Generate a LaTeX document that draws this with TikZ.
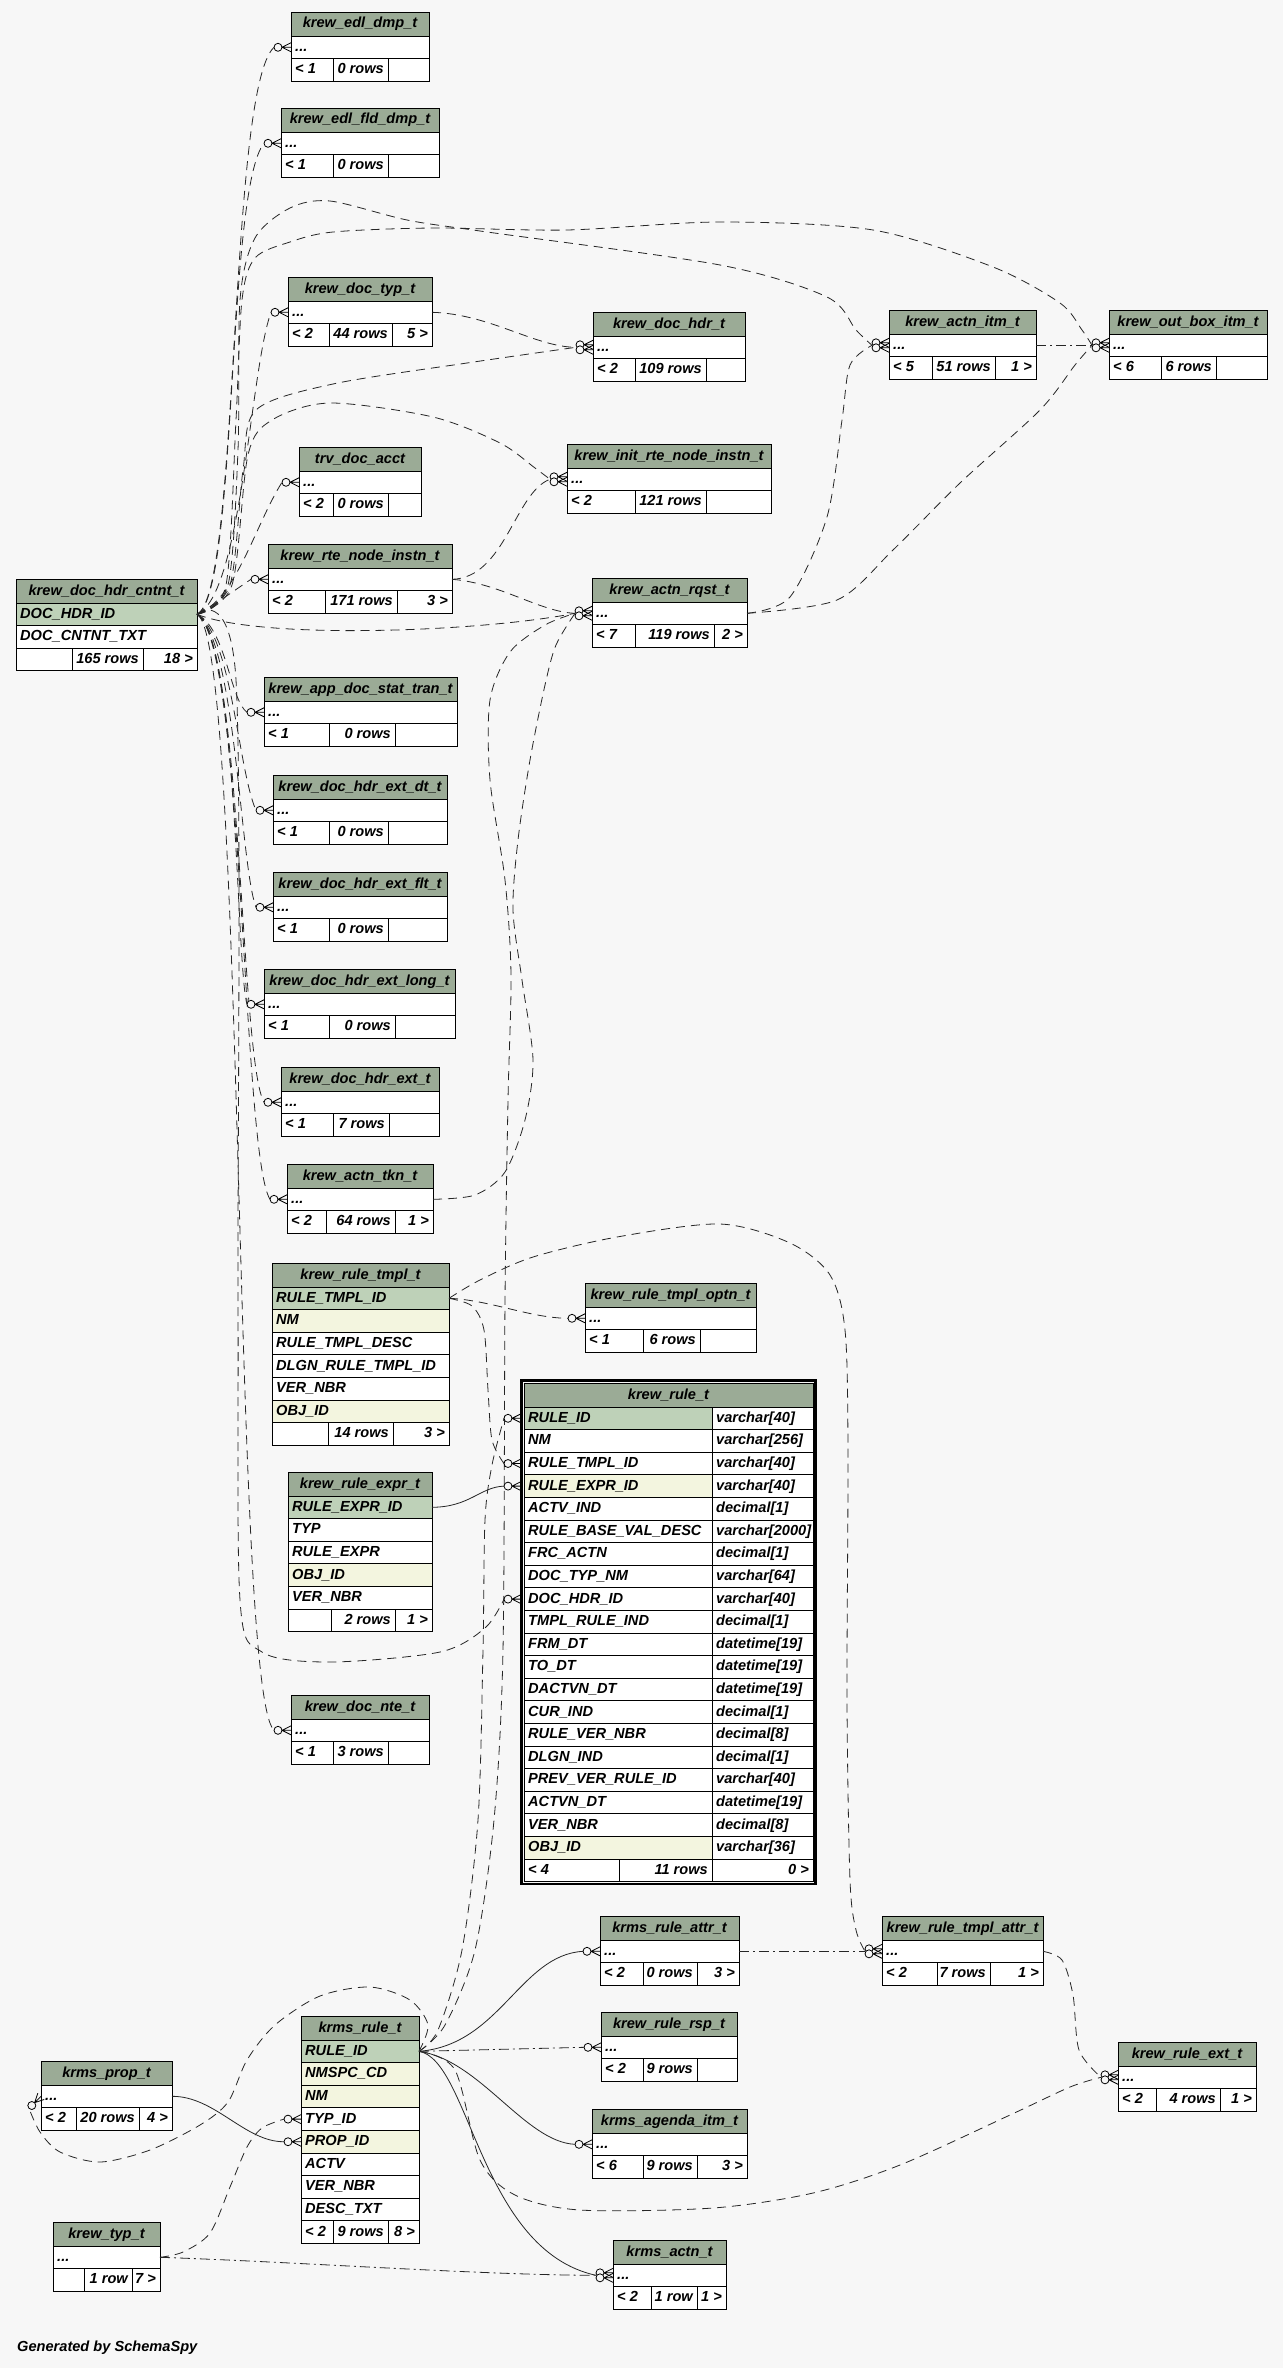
\documentclass[tikz,border=0pt]{standalone}
\usepackage{fontspec}
\setmainfont{Liberation Sans}
\usepackage{tikz}
\usetikzlibrary{calc}

\definecolor{pagebg}{HTML}{F7F7F7}
\definecolor{headbg}{HTML}{9BAB96}
\definecolor{keybg}{HTML}{BED1B8}
\definecolor{idxbg}{HTML}{F3F5DF}
\newcommand{\tblfont}{\fontsize{14.6}{17}\selectfont\bfseries\itshape}
\newcommand{\rowdots}{...}

\tikzset{
  headcell/.style={draw, fill=headbg, line width=0.9pt, anchor=north west, minimum height=24pt,
    inner sep=0pt, outer sep=0pt, text height=10.5pt, text depth=2.5pt, font=\tblfont},
  rowcell/.style={draw, line width=0.9pt, anchor=north west, minimum height=22.6pt, inner sep=0pt, outer sep=0pt},
  celltext/.style={anchor=west, inner sep=0pt, xshift=4pt, text height=10.5pt, text depth=2.5pt, font=\tblfont},
  celltextr/.style={anchor=east, inner sep=0pt, xshift=-4pt, text height=10.5pt, text depth=2.5pt, font=\tblfont},
  rel/.style={draw=black!85, line width=0.8pt},
  implied/.style={rel, dash pattern=on 9pt off 6pt},
  impliedb/.style={rel, dash pattern=on 10pt off 4pt on 2pt off 4pt},
  crow/.pic={
    \draw[solid, line width=0.8pt, fill=pagebg] (-13,0) circle (4pt);
    \draw[solid, line width=0.8pt] (-9,0) -- (0,-4.5) (-9,0) -- (0,0) (-9,0) -- (0,4.5);
  }
}

% 表头 + 各行 (名字, x, y, 宽度, 表名, 行)
\newcommand{\dbtable}[6]{%
  \node[headcell, minimum width=#4pt] (#1) at (#2,#3) {#5};
  \foreach[count=\i] \f/\txt in {#6}{%
    \node[rowcell, fill=\f, minimum width=#4pt] (#1-\i) at ($(#1.south west)+(0,{(\i-1)*22.6})$) {};
    \node[celltext] at (#1-\i.west) {\txt};
    \xdef\lastrow{#1-\i}}
  \coordinate (#1-in) at ([xshift=-17pt]#1-1.west);}

% 表尾三格
\newcommand{\dbfoot}[7]{%
  \node[rowcell, fill=white, minimum width=#2pt] (#1-fa) at (\lastrow.south west) {};
  \node[rowcell, fill=white, minimum width=#3pt] (#1-fb) at (#1-fa.north east) {};
  \node[rowcell, fill=white, minimum width=#4pt] (#1-fc) at (#1-fb.north east) {};
  \node[celltext] at (#1-fa.west) {#5};
  \node[celltextr] at (#1-fb.east) {#6};
  \node[celltextr] at (#1-fc.east) {#7};}

\begin{document}
\begin{tikzpicture}[x=1pt, y=-1pt]
  % 0. 画布
  \useasboundingbox (0,0) rectangle (1283,2368);
  \fill[pagebg] (0,0) rectangle (1283,2368);

  % 1. 上半部分的表
  \dbtable{edlDmp}{291}{12}{138}{krew\_edl\_dmp\_t}{white/\rowdots}
  \dbfoot{edlDmp}{42}{55}{41}{< 1}{0 rows}{}
  \dbtable{edlFld}{281}{108}{158}{krew\_edl\_fld\_dmp\_t}{white/\rowdots}
  \dbfoot{edlFld}{52}{55}{51}{< 1}{0 rows}{}
  \dbtable{docTyp}{288}{277}{144}{krew\_doc\_typ\_t}{white/\rowdots}
  \dbfoot{docTyp}{41}{63}{40}{< 2}{44 rows}{5 >}
  \dbtable{docHdr}{593}{312}{152}{krew\_doc\_hdr\_t}{white/\rowdots}
  \dbfoot{docHdr}{42}{71}{39}{< 2}{109 rows}{}
  \dbtable{actnItm}{889}{310}{147}{krew\_actn\_itm\_t}{white/\rowdots}
  \dbfoot{actnItm}{43}{63}{41}{< 5}{51 rows}{1 >}
  \dbtable{outBox}{1109}{310}{158}{krew\_out\_box\_itm\_t}{white/\rowdots}
  \dbfoot{outBox}{52}{55}{51}{< 6}{6 rows}{}
  \dbtable{trvAcct}{299}{447}{122}{trv\_doc\_acct}{white/\rowdots}
  \dbfoot{trvAcct}{34}{55}{33}{< 2}{0 rows}{}
  \dbtable{initRte}{567}{444}{204}{krew\_init\_rte\_node\_instn\_t}{white/\rowdots}
  \dbfoot{initRte}{68}{71}{65}{< 2}{121 rows}{}
  \dbtable{rteNode}{268}{544}{184}{krew\_rte\_node\_instn\_t}{white/\rowdots}
  \dbfoot{rteNode}{57}{72}{55}{< 2}{171 rows}{3 >}
  \dbtable{cntnt}{16}{579}{181}{krew\_doc\_hdr\_cntnt\_t}{keybg/DOC\_HDR\_ID, white/DOC\_CNTNT\_TXT}
  \dbfoot{cntnt}{56}{71}{54}{}{165 rows}{18 >}
  \dbtable{actnRqst}{592}{578}{155}{krew\_actn\_rqst\_t}{white/\rowdots}
  \dbfoot{actnRqst}{43}{79}{33}{< 7}{119 rows}{2 >}

  % 2. 左列的表
  \dbtable{appStat}{264}{677}{193}{krew\_app\_doc\_stat\_tran\_t}{white/\rowdots}
  \dbfoot{appStat}{65}{66}{62}{< 1}{0 rows}{}
  \dbtable{extDt}{273}{775}{174}{krew\_doc\_hdr\_ext\_dt\_t}{white/\rowdots}
  \dbfoot{extDt}{56}{59}{59}{< 1}{0 rows}{}
  \dbtable{extFlt}{273}{872}{174}{krew\_doc\_hdr\_ext\_flt\_t}{white/\rowdots}
  \dbfoot{extFlt}{56}{59}{59}{< 1}{0 rows}{}
  \dbtable{extLong}{264}{969}{191}{krew\_doc\_hdr\_ext\_long\_t}{white/\rowdots}
  \dbfoot{extLong}{65}{66}{60}{< 1}{0 rows}{}
  \dbtable{extT}{281}{1067}{158}{krew\_doc\_hdr\_ext\_t}{white/\rowdots}
  \dbfoot{extT}{52}{56}{50}{< 1}{7 rows}{}
  \dbtable{actnTkn}{287}{1164}{146}{krew\_actn\_tkn\_t}{white/\rowdots}
  \dbfoot{actnTkn}{39}{69}{38}{< 2}{64 rows}{1 >}
  \dbtable{tmplT}{272}{1263}{177}{krew\_rule\_tmpl\_t}{keybg/RULE\_TMPL\_ID, idxbg/NM, white/RULE\_TMPL\_DESC, white/DLGN\_RULE\_TMPL\_ID, white/VER\_NBR, idxbg/OBJ\_ID}
  \dbfoot{tmplT}{56}{65}{56}{}{14 rows}{3 >}
  \dbtable{tmplOptn}{585}{1283}{171}{krew\_rule\_tmpl\_optn\_t}{white/\rowdots}
  \dbfoot{tmplOptn}{58}{57}{56}{< 1}{6 rows}{}
  \dbtable{ruleExpr}{288}{1472}{144}{krew\_rule\_expr\_t}{keybg/RULE\_EXPR\_ID, white/TYP, white/RULE\_EXPR, idxbg/OBJ\_ID, white/VER\_NBR}
  \dbfoot{ruleExpr}{43}{64}{37}{}{2 rows}{1 >}
  \dbtable{docNte}{291}{1695}{138}{krew\_doc\_nte\_t}{white/\rowdots}
  \dbfoot{docNte}{42}{55}{41}{< 1}{3 rows}{}

  % 3. krew_rule_t (双线边框, 两列)
  \node[headcell, minimum width=289pt] (ruleT) at (524,1383) {krew\_rule\_t};
  \foreach[count=\i] \f/\nm/\ty in {keybg/RULE\_ID/varchar[40], white/NM/varchar[256],
      white/RULE\_TMPL\_ID/varchar[40], idxbg/RULE\_EXPR\_ID/varchar[40], white/ACTV\_IND/decimal[1],
      white/RULE\_BASE\_VAL\_DESC/varchar[2000], white/FRC\_ACTN/decimal[1], white/DOC\_TYP\_NM/varchar[64],
      white/DOC\_HDR\_ID/varchar[40], white/TMPL\_RULE\_IND/decimal[1], white/FRM\_DT/datetime[19],
      white/TO\_DT/datetime[19], white/DACTVN\_DT/datetime[19], white/CUR\_IND/decimal[1],
      white/RULE\_VER\_NBR/decimal[8], white/DLGN\_IND/decimal[1], white/PREV\_VER\_RULE\_ID/varchar[40],
      white/ACTVN\_DT/datetime[19], white/VER\_NBR/decimal[8], idxbg/OBJ\_ID/varchar[36]}{
    \node[rowcell, fill=\f, minimum width=188pt] (ruleT-\i) at ($(ruleT.south west)+(0,{(\i-1)*22.6})$) {};
    \node[rowcell, fill=white, minimum width=101pt] (ruleT-\i-ty) at (ruleT-\i.north east) {};
    \node[celltext] at (ruleT-\i.west) {\nm};
    \node[celltext] at (ruleT-\i-ty.west) {\ty};
    \xdef\lastrow{ruleT-\i}}
  \dbfoot{ruleT}{95}{93}{101}{< 4}{11 rows}{0 >}
  \draw[line width=2.2pt] ($(ruleT.north west)+(-2.5,-2.5)$) rectangle ($(ruleT-fc.south east)+(2.5,2.5)$);
  \foreach \k in {1,3,4,9}
    \coordinate (ruleT-\k-in) at ([xshift=-20pt]ruleT-\k.west);

  % 4. 下半部分的表
  \dbtable{ruleAttr}{600}{1916}{139}{krms\_rule\_attr\_t}{white/\rowdots}
  \dbfoot{ruleAttr}{43}{54}{42}{< 2}{0 rows}{3 >}
  \dbtable{tmplAttr}{882}{1916}{161}{krew\_rule\_tmpl\_attr\_t}{white/\rowdots}
  \dbfoot{tmplAttr}{55}{53}{53}{< 2}{7 rows}{1 >}
  \dbtable{ruleRsp}{601}{2012}{136}{krew\_rule\_rsp\_t}{white/\rowdots}
  \dbfoot{ruleRsp}{42}{54}{40}{< 2}{9 rows}{}
  \dbtable{ruleExt}{1118}{2042}{138}{krew\_rule\_ext\_t}{white/\rowdots}
  \dbfoot{ruleExt}{38}{64}{36}{< 2}{4 rows}{1 >}
  \dbtable{agenda}{592}{2109}{155}{krms\_agenda\_itm\_t}{white/\rowdots}
  \dbfoot{agenda}{51}{54}{50}{< 6}{9 rows}{3 >}
  \dbtable{krmsActn}{613}{2240}{113}{krms\_actn\_t}{white/\rowdots}
  \dbfoot{krmsActn}{38}{46}{29}{< 2}{1 row}{1 >}
  \dbtable{krmsRule}{301}{2016}{118}{krms\_rule\_t}{keybg/RULE\_ID, idxbg/NMSPC\_CD, idxbg/NM, white/TYP\_ID, idxbg/PROP\_ID, white/ACTV, white/VER\_NBR, white/DESC\_TXT}
  \dbfoot{krmsRule}{32}{55}{31}{< 2}{9 rows}{8 >}
  \dbtable{krmsProp}{41}{2061}{131}{krms\_prop\_t}{white/\rowdots}
  \dbfoot{krmsProp}{35}{63}{33}{< 2}{20 rows}{4 >}
  \dbtable{krewTyp}{53}{2222}{107}{krew\_typ\_t}{white/\rowdots}
  \dbfoot{krewTyp}{31}{48}{28}{}{1 row}{7 >}
  \coordinate (krmsRule-4-in) at ([xshift=-17pt]krmsRule-4.west);
  \coordinate (krmsRule-5-in) at ([xshift=-17pt]krmsRule-5.west);
  \coordinate (krmsProp-loop) at ([shift={(-12pt,-12pt)}]krmsProp-1.west);

  \node[anchor=west, inner sep=0pt, font=\tblfont] (genby) at (17,2348) {Generated by SchemaSpy};

  % 5. 从 DOC_HDR_ID 出发的连线
  \coordinate (hub) at (cntnt-1.east);
  \draw[implied] (hub) .. controls (240,595) and (228,90) .. (edlDmp-in);
  \draw[implied] (hub) .. controls (238,595) and (226,190) .. (edlFld-in);
  \draw[implied] (hub) .. controls (242,595) and (250,370) .. (docTyp-in);
  \draw[implied] (hub) .. controls (236,600) and (255,525) .. (trvAcct-in);
  \draw[implied] (hub) .. controls (222,600) and (232,592) .. (rteNode-in);
  \draw[implied] (hub) .. controls (226,628) and (230,700) .. (appStat-in);
  \draw[implied] (hub) .. controls (232,635) and (238,770) .. (extDt-in);
  \draw[implied] (hub) .. controls (236,640) and (240,865) .. (extFlt-in);
  \draw[implied] (hub) .. controls (238,640) and (236,965) .. (extLong-in);
  \draw[implied] (hub) .. controls (242,640) and (240,1060) .. (extT-in);
  \draw[implied] (hub) .. controls (244,640) and (242,1155) .. (actnTkn-in);
  \draw[implied] (hub) .. controls (246,640) and (232,1690) .. (docNte-in);
  \draw[implied] plot[smooth] coordinates {(hub) (236,680) (238,1300) (240,1600) (262,1652) (330,1662) (440,1652) (485,1628) (ruleT-9-in)};
  \draw[implied] (hub) .. controls (262,640) and (480,632) .. (actnRqst-in);
  \draw[implied] plot[smooth] coordinates {(hub) (230,585) (243,470) (256,410) (333,384) (467,363) (docHdr-in)};
  \draw[implied] plot[smooth] coordinates {(hub) (232,585) (248,455) (272,420) (330,403) (433,417) (500,443) (535,468) (initRte-in)};
  \draw[implied] plot[smooth] coordinates {(hub) (228,585) (238,450) (240,300) (255,238) (290,208) (330,201) (407,220) (480,231) (720,265) (827,297) (856,330) (actnItm-in)};
  \draw[implied] plot[smooth] coordinates {(hub) (226,585) (236,420) (242,300) (255,258) (290,242) (333,232) (433,228) (567,230) (720,222) (873,230) (993,267) (1060,303) (1082,330) (outBox-in)};

  % 6. 上半部分其余连线
  \draw[implied] (docTyp-1.east) .. controls (490,314) and (535,347) .. (docHdr-in);
  \draw[implied] (rteNode-1.east) .. controls (505,578) and (515,492) .. (initRte-in);
  \draw[implied] (rteNode-1.east) .. controls (500,583) and (540,612) .. (actnRqst-in);
  \draw[implied] plot[smooth] coordinates {(actnRqst-1.east) (790,597) (827,517) (842,420) (850,365) (actnItm-in)};
  \draw[implied] plot[smooth] coordinates {(actnRqst-1.east) (837,600) (893,550) (960,483) (1040,410) (1075,365) (outBox-in)};
  \draw[impliedb] (actnItm-1.east) -- (outBox-in);
  \draw[implied] plot[smooth] coordinates {(actnTkn-1.east) (475,1195) (505,1172) (525,1120) (533,1060) (522,980) (513,910) (518,840) (530,760) (545,685) (556,645) (actnRqst-in)};

  % 7. krew_rule_t 周围
  \draw[implied] plot[smooth] coordinates {(krmsRule-1.east) (445,2025) (475,1950) (494,1820) (503,1650) (505,1300) (508,1100) (511,975) (505,880) (490,780) (490,700) (510,652) (545,625) (actnRqst-in)};
  \draw[implied] plot[smooth] coordinates {(krmsRule-1.east) (438,2030) (462,1950) (478,1820) (483,1650) (485,1520) (492,1465) (ruleT-1-in)};
  \draw[implied] plot[smooth] coordinates {(tmplT-1.east) (472,1306) (484,1330) (488,1390) (492,1440) (ruleT-3-in)};
  \draw[implied] (tmplT-1.east) .. controls (490,1300) and (530,1318) .. (tmplOptn-in);
  \draw[implied] plot[smooth] coordinates {(tmplT-1.east) (480,1280) (533,1257) (617,1237) (720,1224) (790,1243) (830,1275) (845,1330) (848,1450) (847,1700) (850,1880) (856,1930) (tmplAttr-in)};
  \draw[rel] (ruleExpr-1.east) .. controls (470,1507) and (480,1487) .. (ruleT-4-in);

  % 8. krms 部分
  \draw[impliedb] (ruleAttr-1.east) -- (tmplAttr-in);
  \draw[implied] plot[smooth] coordinates {(tmplAttr-1.east) (1062,1960) (1073,1995) (1079,2050) (ruleExt-in)};
  \draw[rel] (krmsRule-1.east) .. controls (500,2045) and (520,1955) .. (ruleAttr-in);
  \draw[impliedb] (krmsRule-1.east) -- (ruleRsp-in);
  \draw[rel] (krmsRule-1.east) .. controls (480,2060) and (525,2142) .. (agenda-in);
  \draw[rel] (krmsRule-1.east) .. controls (470,2060) and (480,2250) .. (krmsActn-in);
  \draw[implied] plot[smooth] coordinates {(krmsRule-1.east) (455,2070) (480,2160) (515,2195) (580,2210) (713,2208) (813,2193) (900,2165) (1010,2115) (1070,2087) (ruleExt-in)};
  \draw[implied] plot[smooth] coordinates {(krmsRule-1.east) (428,2025) (410,2000) (370,1987) (320,1996) (275,2025) (247,2060) (228,2102) (200,2125) (150,2150) (100,2162) (60,2152) (40,2132) (krmsProp-loop)};
  \draw[rel] (krmsProp-1.east) .. controls (215,2096) and (245,2142) .. (krmsRule-5-in);
  \draw[implied] plot[smooth] coordinates {(krewTyp-1.east) (183,2252) (210,2233) (230,2187) (247,2147) (262,2128) (krmsRule-4-in)};
  \draw[impliedb] (krewTyp-1.east) .. controls (300,2262) and (480,2275) .. (krmsActn-in);

  % 9. 鸦爪标记
  \foreach \tb in {edlDmp,edlFld,docTyp,trvAcct,rteNode,appStat,extDt,extFlt,extLong,extT,actnTkn,docNte,tmplOptn,ruleAttr,ruleRsp,agenda}
    \pic at (\tb-1.west) {crow};
  \foreach \tb in {docHdr,actnItm,outBox,initRte,actnRqst,tmplAttr,ruleExt,krmsActn}{
    \pic at ([yshift=2.5pt]\tb-1.west) {crow};
    \pic at ([yshift=-2.5pt]\tb-1.west) {crow};}
  \foreach \k in {1,3,4,9}
    \pic at ([xshift=-3pt]ruleT-\k.west) {crow};
  \pic at (krmsRule-4.west) {crow};
  \pic at (krmsRule-5.west) {crow};
  \pic[rotate=45] at (krmsProp-1.west) {crow};
\end{tikzpicture}
\end{document}
